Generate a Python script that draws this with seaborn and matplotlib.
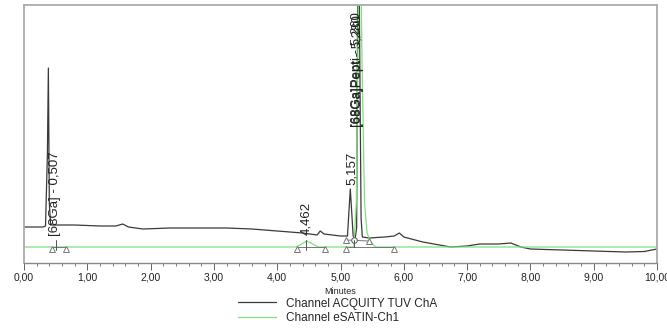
import matplotlib.pyplot as plt
import pandas as pd
import seaborn as sns
from matplotlib.ticker import MultipleLocator, FuncFormatter

sns.set_theme(style="white")
plt.rcParams["font.family"] = ["Liberation Sans", "DejaVu Sans"]

# Channel ACQUITY TUV ChA (arbitrary detector units)
tuv_time = [0.0, 0.30, 0.34, 0.37, 0.385, 0.40, 0.42, 0.5, 0.8, 1.2, 1.45,
            1.56, 1.65, 1.88, 2.3, 2.8, 3.2, 3.6, 4.0, 4.4, 4.63, 4.68, 4.74,
            5.0, 5.11, 5.155, 5.20, 5.23, 5.255, 5.28, 5.325, 5.345, 5.45,
            5.7, 5.85, 5.93, 6.0, 6.3, 6.74, 7.0, 7.2, 7.5, 7.69, 7.85, 8.0,
            8.5, 9.0, 9.5, 9.8, 10.0]
tuv_signal = [36, 36, 37, 110, 195, 60, 38, 38, 38, 37, 37,
              39, 36, 34, 35, 35, 35, 34, 32, 30, 28, 32, 29,
              27, 27, 74, 27, 24, 35, 400, 45, 26, 25,
              26, 27, 30, 26, 21, 16, 17, 19, 19, 20, 16, 14,
              13, 12, 11, 11.5, 14]

# Channel eSATIN-Ch1
sat_time = [0.0, 4.30, 4.47, 4.65, 5.21, 5.25, 5.28, 5.30, 5.34, 5.38,
            5.42, 5.47, 5.52, 5.56, 10.0]
sat_signal = [16, 16, 22, 16, 16, 60, 250, 400, 200, 60,
              30, 22, 18, 16, 16]

channels = ["Channel ACQUITY TUV ChA", "Channel eSATIN-Ch1"]
colors = {"Channel ACQUITY TUV ChA": "#3a3a3a", "Channel eSATIN-Ch1": "#7ee07e"}

# integration events: start, end, peak time
low_events = [(0.44, 0.66, 0.507), (4.31, 4.76, 4.462), (5.09, 5.84, None)]
upper_triangles = [5.09, 5.45]
upper_valley = 5.22

# peak labels: text, x, y
peak_labels = [("[68Ga] - 0,507", 0.49, 27),
               ("4,462", 4.46, 28),
               ("5,157", 5.18, 78),
               ("[68Ga]Pepti - 5,260", 5.26, 136),
               ("[68Ga]Pept - 5,280", 5.28, 136)]

df = pd.concat([
    pd.DataFrame({"Minutes": tuv_time, "signal": tuv_signal, "channel": channels[0]}),
    pd.DataFrame({"Minutes": sat_time, "signal": sat_signal, "channel": channels[1]}),
])

fig = plt.figure(figsize=(6.67, 3.30), dpi=100)
ax = fig.add_axes([24 / 667, 67 / 330, 633 / 667, 258 / 330])

sns.lineplot(data=df, x="Minutes", y="signal", hue="channel", hue_order=channels,
             palette=colors, linewidth=0.9, ax=ax, sort=False, estimator=None)

# integration baselines and markers
tri = dict(marker="^", markersize=4.5, markerfacecolor="white",
           markeredgecolor="#777777", markeredgewidth=0.7, linestyle="none")
for start, end, peak in low_events:
    ax.plot([start, end], [16, 16], color="#777777", lw=0.7)
    ax.plot([start, end], [14, 14], **tri)
    if peak is not None:
        ax.plot([peak, peak], [13, 23], color="#555555", lw=0.7)
ax.plot([upper_triangles[0], upper_triangles[1]], [23, 22], color="#777777", lw=0.7)
ax.plot(upper_triangles, [23, 22], **tri)
ax.plot([upper_valley], [23], marker="o", markersize=4, markerfacecolor="white",
        markeredgecolor="#555555", markeredgewidth=0.7, linestyle="none")
ax.plot([upper_valley, upper_valley], [16, 23], color="#555555", lw=0.7)

for text, x, y in peak_labels:
    ax.text(x, y, text, rotation=90, ha="center", va="bottom", fontsize=9.5,
            color="#222222")

ax.set_xlim(0, 10)
ax.set_ylim(0, 258)
ax.set_yticks([])
ax.set_ylabel("")
ax.set_xlabel("Minutes", fontsize=6.5, labelpad=3)
ax.xaxis.set_major_locator(MultipleLocator(1))
ax.xaxis.set_minor_locator(MultipleLocator(0.2))
ax.xaxis.set_major_formatter(FuncFormatter(lambda v, p: f"{v:.2f}".replace(".", ",")))
ax.tick_params(axis="x", which="major", bottom=True, length=5, width=0.7,
               color="#666666", labelsize=7.5, labelcolor="#222222", pad=2)
ax.tick_params(axis="x", which="minor", bottom=True, length=2.5, width=0.6,
               color="#666666")
for side in ["top", "left", "right"]:
    ax.spines[side].set_color("#aaaaaa")
    ax.spines[side].set_linewidth(1.3)
ax.spines["bottom"].set_color("#888888")
ax.spines["bottom"].set_linewidth(1.0)

handles, labels = ax.get_legend_handles_labels()
ax.get_legend().remove()
leg = fig.legend(handles, labels, loc="center left", bbox_to_anchor=(238 / 667, 19 / 330),
                 frameon=False, fontsize=8.5, handlelength=3.2, handletextpad=0.9,
                 labelspacing=0.25, borderpad=0, borderaxespad=0)
for line in leg.get_lines():
    line.set_linewidth(0.9)

fig.savefig("out.png", dpi=100)
